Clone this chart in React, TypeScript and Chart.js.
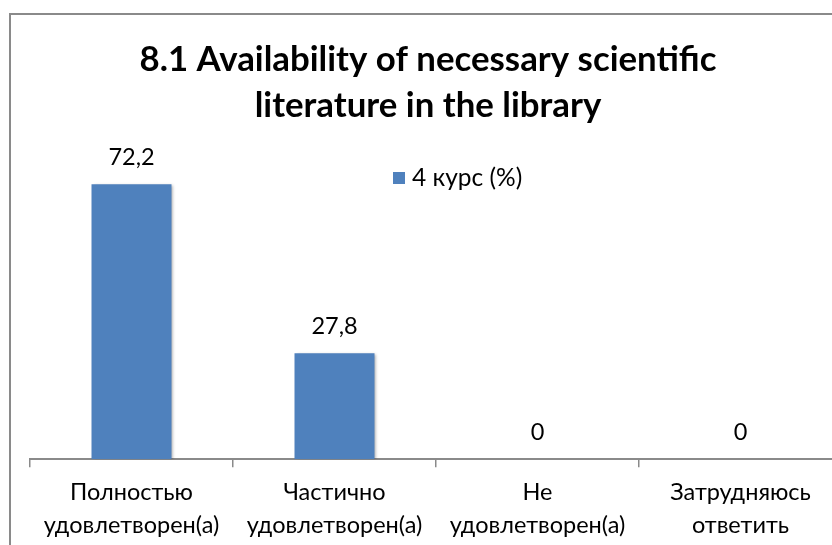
import React, { useEffect, useRef } from "react";
import { Chart, registerables } from "chart.js";

Chart.register(...registerables);

const titleLines = ["8.1 Availability of necessary scientific", "literature in the library"];
const categories = [
  ["Полностью", "удовлетворен(а)"],
  ["Частично", "удовлетворен(а)"],
  ["Не", "удовлетворен(а)"],
  ["Затрудняюсь", "ответить"],
];
const seriesLabel = "4 курс (%)";
const seriesValues = [72.2, 27.8, 0, 0];
const barColor = "#4F81BD";
const FONT = "Lato, 'Open Sans', sans-serif";

const framePlugin = {
  id: "frame",
  beforeDraw(chart: any) {
    const ctx = chart.ctx;
    ctx.save();
    ctx.fillStyle = "#ffffff";
    ctx.fillRect(0, 0, chart.width, chart.height);
    ctx.strokeStyle = "#8a8a8a";
    ctx.lineWidth = 2;
    ctx.strokeRect(10, 14, chart.width + 20, chart.height + 20);
    ctx.restore();
  },
};

const shadowPlugin = {
  id: "barShadow",
  beforeDatasetsDraw(chart: any) {
    const ctx = chart.ctx;
    ctx.save();
    ctx.shadowColor = "rgba(0,0,0,0.35)";
    ctx.shadowOffsetX = 2;
    ctx.shadowOffsetY = 1;
    ctx.shadowBlur = 3;
  },
  afterDatasetsDraw(chart: any) {
    chart.ctx.restore();
  },
};

const labelsPlugin = {
  id: "valueLabels",
  afterDraw(chart: any) {
    const ctx = chart.ctx;
    const meta = chart.getDatasetMeta(0);
    const data = chart.data.datasets[0].data as number[];
    ctx.save();
    ctx.font = `23.5px ${FONT}`;
    ctx.fillStyle = "#000000";
    ctx.textAlign = "center";
    ctx.textBaseline = "alphabetic";
    meta.data.forEach((bar: any, i: number) => {
      const txt = String(data[i]).replace(".", ",");
      ctx.fillText(txt, bar.x, bar.y - 19);
    });
    // legend
    const ds = chart.data.datasets[0];
    ctx.fillStyle = ds.backgroundColor;
    ctx.fillRect(393, 172, 12, 12);
    ctx.fillStyle = "#000000";
    ctx.textAlign = "left";
    ctx.textBaseline = "middle";
    ctx.font = `24.5px ${FONT}`;
    ctx.fillText(ds.label, 412, 178);
    ctx.restore();
  },
};

export default function App() {
  const ref = useRef<HTMLCanvasElement>(null);
  useEffect(() => {
    if (!ref.current) return;
    const chart = new Chart(ref.current, {
      type: "bar",
      data: {
        labels: categories,
        datasets: [
          {
            label: seriesLabel,
            data: seriesValues,
            backgroundColor: barColor,
            categoryPercentage: 1,
            barPercentage: 0.394,
          },
        ],
      },
      options: {
        responsive: false,
        animation: false,
        layout: { padding: { left: 14, right: 0, top: 14, bottom: -5 } },
        plugins: {
          legend: { display: false },
          tooltip: { enabled: false },
          title: {
            display: true,
            text: titleLines,
            color: "#000000",
            font: { family: FONT, size: 34.8, weight: "bold", lineHeight: 1.3 },
            padding: { top: 23.5, bottom: 26.5 },
          },
        },
        scales: {
          x: {
            grid: {
              display: true,
              offset: true,
              drawOnChartArea: false,
              drawTicks: true,
              tickLength: 8,
              color: "#8a8a8a",
              lineWidth: 1.5,
            },
            border: { display: true, color: "#8a8a8a", width: 2 },
            ticks: {
              color: "#000000",
              font: { family: FONT, size: 23.5, lineHeight: 1.4 },
              maxRotation: 0,
              autoSkip: false,
              padding: 8.5,
            },
          },
          y: {
            min: 0,
            max: 80,
            grid: { display: false },
            border: { display: false },
            ticks: { display: false },
            afterFit(scale: any) {
              scale.width = 16;
            },
          },
        },
      },
      plugins: [framePlugin, shadowPlugin, labelsPlugin],
    });
    return () => chart.destroy();
  }, []);
  return (
    <div
      style={{
        position: "fixed",
        left: 0,
        top: 0,
        width: 832,
        height: 545,
        overflow: "hidden",
        background: "#fff",
      }}
    >
      <canvas ref={ref} width={842} height={545} style={{ display: "block" }} />
    </div>
  );
}
